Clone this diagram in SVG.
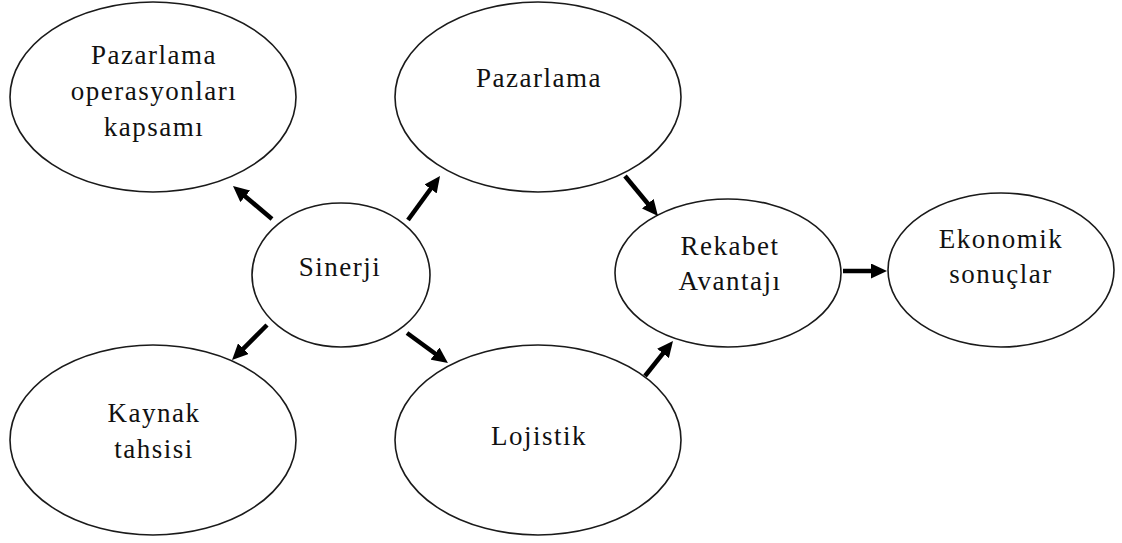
<svg xmlns="http://www.w3.org/2000/svg" width="1122" height="543" viewBox="0 0 1122 543">
  <style>
    .node ellipse { fill: #ffffff; stroke: #1a1a1a; stroke-width: 1.6; }
    .node text { font-family: "Liberation Serif", "Times New Roman", serif; font-size: 27px; letter-spacing: 1.5px; fill: #111111; text-anchor: middle; }
    .edge { stroke: #000000; stroke-width: 4.5; fill: none; marker-end: url(#head); }
  </style>
  <defs>
    <marker id="head" markerUnits="userSpaceOnUse" markerWidth="16" markerHeight="15" refX="8" refY="7.5" orient="auto">
      <path d="M0,0 L16,7.5 L0,15 z" fill="#000000"/>
    </marker>
  </defs>
  <rect width="1122" height="543" fill="#ffffff"/>

  <g id="scope">
    <g class="node">
      <ellipse cx="153" cy="97" rx="143" ry="95"/>
      <text x="154" y="64">Pazarlama</text>
      <text x="154" y="100">operasyonları</text>
      <text x="154" y="136">kapsamı</text>
    </g>
  </g>

  <g id="marketing">
    <g class="node">
      <ellipse cx="538" cy="97" rx="143" ry="95"/>
      <text x="539" y="87">Pazarlama</text>
    </g>
  </g>

  <g id="synergy">
    <g class="node">
      <ellipse cx="341" cy="275" rx="89" ry="72"/>
      <text x="340" y="276">Sinerji</text>
    </g>
  </g>

  <g id="advantage">
    <g class="node">
      <ellipse cx="728" cy="273" rx="113" ry="74"/>
      <text x="730" y="255">Rekabet</text>
      <text x="730" y="290">Avantajı</text>
    </g>
  </g>

  <g id="results">
    <g class="node">
      <ellipse cx="1001" cy="270" rx="113" ry="77"/>
      <text x="1001" y="248">Ekonomik</text>
      <text x="1001" y="283">sonuçlar</text>
    </g>
  </g>

  <g id="allocation">
    <g class="node">
      <ellipse cx="153" cy="440" rx="143" ry="95"/>
      <text x="154" y="422">Kaynak</text>
      <text x="154" y="458">tahsisi</text>
    </g>
  </g>

  <g id="logistics">
    <g class="node">
      <ellipse cx="538" cy="440" rx="143" ry="95"/>
      <text x="539" y="445">Lojistik</text>
    </g>
  </g>

  <g id="connectors">
    <line class="edge" x1="272" y1="219" x2="239.1" y2="191.2"/>
    <line class="edge" x1="408" y1="220" x2="435.3" y2="182.5"/>
    <line class="edge" x1="625" y1="176" x2="652.9" y2="209.8"/>
    <line class="edge" x1="267" y1="325" x2="237.7" y2="354.3"/>
    <line class="edge" x1="407" y1="333" x2="441.5" y2="358.3"/>
    <line class="edge" x1="645" y1="376" x2="668" y2="347.2"/>
    <line class="edge" x1="843" y1="271" x2="879" y2="271"/>
  </g>
</svg>
